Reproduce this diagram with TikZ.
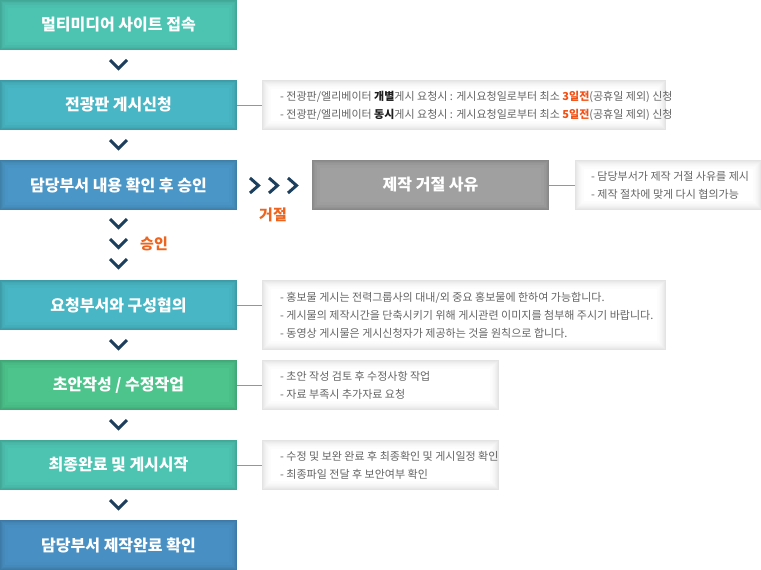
\documentclass[tikz,border=0pt]{standalone}
\usepackage{fontspec}
\setmainfont{Noto Sans CJK KR}
\usetikzlibrary{calc}
\definecolor{cteal}{RGB}{77,196,178}
\definecolor{ccyan}{RGB}{72,182,196}
\definecolor{cblue}{RGB}{74,150,199}
\definecolor{cblueb}{RGB}{72,144,196}
\definecolor{cgreen}{RGB}{76,196,139}
\definecolor{cgray}{RGB}{160,160,160}
\definecolor{chevc}{RGB}{28,63,94}
\definecolor{corange}{RGB}{236,100,30}
\definecolor{ntext}{RGB}{100,100,100}
\definecolor{nbold}{RGB}{30,30,30}
\definecolor{nred}{RGB}{242,80,20}
\definecolor{lineg}{RGB}{150,150,150}
\newcommand{\hl}[1]{{\bfseries\color{nbold}#1}}
\newcommand{\hr}[1]{{\bfseries\color{nred}#1}}
\tikzset{
  mainbox/.style={minimum width=237pt, minimum height=50pt, inner sep=0pt,
    text=white, font=\fontsize{16}{18}\selectfont\bfseries,
    path picture={
      \foreach \i/\p in {1/88,2/92,3/95,5/98,8/100}{
        \fill[#1!\p!black] ([shift={(\i pt,-\i pt)}]path picture bounding box.north west)
          rectangle ([shift={(-\i pt,\i pt)}]path picture bounding box.south east);}
    }, fill=#1!85!black},
  notebox/.style={anchor=north west, inner sep=0pt, fill=black!11,
    path picture={
      \foreach \i/\p in {1/9,2/7,3/5.5,4/4,5/3,6/2,7/1,9/0}{
        \fill[black!\p] ([shift={(\i pt,-\i pt)}]path picture bounding box.north west)
          rectangle ([shift={(-\i pt,\i pt)}]path picture bounding box.south east);}
    }},
  notetext/.style={anchor=west, inner sep=0pt, align=left,
    text=ntext, font=\fontsize{11}{18}\selectfont},
  chev/.style={draw=chevc, line width=3pt, line cap=butt, line join=miter},
  conn/.style={draw=lineg, line width=1pt},
  orangelabel/.style={text=corange, font=\fontsize{15}{18}\selectfont\bfseries, inner sep=0pt}
}
\begin{document}
\begin{tikzpicture}[x=1pt,y=-1pt]
\useasboundingbox (0,0) rectangle (761,570);
% main column
\node[mainbox=cteal] (b1) at (118.5,25) {멀티미디어 사이트 접속};
\node[mainbox=ccyan] (b2) at (118.5,105) {전광판 게시신청};
\node[mainbox=cblue] (b3) at (118.5,185) {담당부서 내용 확인 후 승인};
\node[mainbox=ccyan] (b4) at (118.5,305) {요청부서와 구성협의};
\node[mainbox=cgreen] (b5) at (118.5,385) {초안작성 / 수정작업};
\node[mainbox=cteal] (b6) at (118.5,465) {최종완료 및 게시시작};
\node[mainbox=cblueb] (b7) at (118.5,545) {담당부서 제작완료 확인};
% reject box
\node[mainbox=cgray] (r) at (430.5,185) {제작 거절 사유};
% notes
\node[notebox, minimum width=404pt, minimum height=50pt] (n2) at (262,80) {};
\node[notetext] (t2) at ([xshift=18pt,yshift=-1pt]n2.west)
 {- 전광판/엘리베이터 \hl{개별}게시 요청시 : 게시요청일로부터 최소 \hr{3일전}(공휴일 제외) 신청\\
  - 전광판/엘리베이터 \hl{동시}게시 요청시 : 게시요청일로부터 최소 \hr{5일전}(공휴일 제외) 신청};
\node[notebox, minimum width=187pt, minimum height=50pt] (nr) at (575,160) {};
\node[notetext] (tr) at ([xshift=16pt]nr.west)
 {- 담당부서가 제작 거절 사유를 제시\\
  - 제작 절차에 맞게 다시 협의가능};
\node[notebox, minimum width=404pt, minimum height=70pt] (n4) at (262,280) {};
\node[notetext] (t4) at ([xshift=18pt]n4.west)
 {- 홍보물 게시는 전력그룹사의 대내/외 중요 홍보물에 한하여 가능합니다.\\
  - 게시물의 제작시간을 단축시키기 위해 게시관련 이미지를 첨부해 주시기 바랍니다.\\
  - 동영상 게시물은 게시신청자가 제공하는 것을 원칙으로 합니다.};
\node[notebox, minimum width=237pt, minimum height=50pt] (n5) at (262,360) {};
\node[notetext] (t5) at ([xshift=18pt]n5.west)
 {- 초안 작성 검토 후 수정사항 작업\\
  - 자료 부족시 추가자료 요청};
\node[notebox, minimum width=237pt, minimum height=50pt] (n6) at (262,440) {};
\node[notetext] (t6) at ([xshift=18pt]n6.west)
 {- 수정 및 보완 완료 후 최종확인 및 게시일정 확인\\
  - 최종파일 전달 후 보안여부 확인};
% connectors to notes
\draw[conn] (b2.east) -- (b2.east -| n2.west);
\draw[conn] (r.east) -- (r.east -| nr.west);
\draw[conn] (b4.east) -- (b4.east -| n4.west);
\draw[conn] (b5.east) -- (b5.east -| n5.west);
\draw[conn] (b6.east) -- (b6.east -| n6.west);
% down chevrons
\foreach \y in {60,140,219,239,259,340,420,500}{
  \draw[chev] (110,\y) -- (118.5,\y+8.5) -- (127,\y);
}
% right chevrons
\foreach \x in {250,269,288}{
  \draw[chev] (\x,178) -- (\x+8.5,185.5) -- (\x,193);
}
\node[orangelabel] (lr) at (273,215) {거절};
\node[orangelabel] (la) at (154,244) {승인};
\end{tikzpicture}
\end{document}
